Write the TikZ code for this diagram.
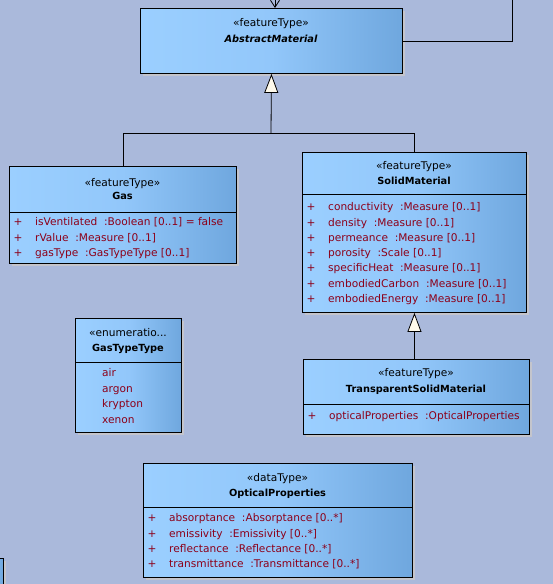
\documentclass[tikz,border=0pt]{standalone}
\usepackage{fontspec}
\setmainfont{DejaVu Sans}
\usetikzlibrary{arrows.meta,shadows}
\definecolor{canvas}{RGB}{170,185,219}
\definecolor{boxlight}{RGB}{155,207,255}
\definecolor{boxmid}{RGB}{146,199,250}
\definecolor{boxdark}{RGB}{111,167,222}
\definecolor{shade}{RGB}{196,197,204}
\definecolor{attrred}{RGB}{140,0,25}
\definecolor{cream}{RGB}{255,250,235}

\begin{document}
\begin{tikzpicture}[x=1bp,y=-1bp,
        every node/.style={inner sep=0pt,font=\fontsize{10.6bp}{12.7bp}\selectfont},
        umlclass/.style={draw,line width=0.9bp,anchor=north west,
            left color=boxlight,right color=boxdark,middle color=boxmid,
            drop shadow={shadow xshift=3bp,shadow yshift=-3bp,fill=shade,opacity=1}},
        stereo/.style={anchor=base},
        cname/.style={anchor=base,font=\fontsize{9.8bp}{12bp}\selectfont\bfseries},
        abstract/.style={cname,font=\fontsize{9.8bp}{12bp}\selectfont\bfseries\itshape},
        plus/.style={anchor=base,text=attrred},
        attr/.style={anchor=base west,text=attrred},
        link/.style={line width=0.8bp},
        divider/.style={line width=0.8bp},
        gen/.style={link,-{Triangle[length=19bp,width=14bp,fill=cream]}},
        nav/.style={link,-{Straight Barb[length=7bp,width=9bp]}}]
        \useasboundingbox (0,0) rectangle (553,584);
        \fill[canvas] (0,0) rectangle (553,584);
        \clip (0,0) rectangle (553,584);

        % AbstractMaterial at the top
        \node[umlclass,minimum width=262bp,minimum height=65bp] (am) at (140,8) {};
        \node[stereo] (am-st) at (271,27) {«featureType»};
        \node[abstract] (am-nm) at (271,43) {AbstractMaterial};
        \coordinate (am-in) at (275,0);
        \coordinate (am-out) at (512,0);
        \draw[nav] (am-in) -- (am-in |- am.north);
        \draw[link] (am.east) -| (am-out);

        % Gas
        \node[umlclass,minimum width=227bp,minimum height=97bp] (gas) at (9,166) {};
        \node[stereo] (gas-st) at (122.5,186) {«featureType»};
        \node[cname] (gas-nm) at (122.5,199.5) {Gas};
        \draw[divider] (gas.west |- 0,212) -- (gas.east |- 0,212);
        \node[plus] (gas-p1) at (18,225.7) {+}; \node[attr] (gas-a1) at (35,225.7) {isVentilated\ \ :Boolean [0..1] = false};
        \node[plus] (gas-p2) at (18,241) {+}; \node[attr] (gas-a2) at (35,241) {rValue\ \ :Measure [0..1]};
        \node[plus] (gas-p3) at (18,256.3) {+}; \node[attr] (gas-a3) at (35,256.3) {gasType\ \ :GasTypeType [0..1]};

        % SolidMaterial
        \node[umlclass,minimum width=224bp,minimum height=160bp] (solid) at (302,152) {};
        \node[stereo] (solid-st) at (414,170) {«featureType»};
        \node[cname] (solid-nm) at (414,184.3) {SolidMaterial};
        \draw[divider] (solid.west |- 0,194) -- (solid.east |- 0,194);
        \node[plus] (solid-p1) at (311,210.7) {+}; \node[attr] (solid-a1) at (328,210.7) {conductivity\ \ :Measure [0..1]};
        \node[plus] (solid-p2) at (311,226) {+}; \node[attr] (solid-a2) at (328,226) {density\ \ :Measure [0..1]};
        \node[plus] (solid-p3) at (311,241.3) {+}; \node[attr] (solid-a3) at (328,241.3) {permeance\ \ :Measure [0..1]};
        \node[plus] (solid-p4) at (311,256.6) {+}; \node[attr] (solid-a4) at (328,256.6) {porosity\ \ :Scale [0..1]};
        \node[plus] (solid-p5) at (311,271.9) {+}; \node[attr] (solid-a5) at (328,271.9) {specificHeat\ \ :Measure [0..1]};
        \node[plus] (solid-p6) at (311,287.2) {+}; \node[attr] (solid-a6) at (328,287.2) {embodiedCarbon\ \ :Measure [0..1]};
        \node[plus] (solid-p7) at (311,302.5) {+}; \node[attr] (solid-a7) at (328,302.5) {embodiedEnergy\ \ :Measure [0..1]};

        % both generalise AbstractMaterial
        \coordinate (join) at (271,133);
        \draw[link] (gas.north) |- (join);
        \draw[link] (solid.north) |- (join);
        \draw[gen] (join) -- (am.south);

        % TransparentSolidMaterial
        \node[umlclass,minimum width=226bp,minimum height=75bp] (tsm) at (303,359) {};
        \node[stereo] (tsm-st) at (416,376.7) {«featureType»};
        \node[cname] (tsm-nm) at (416,392.3) {TransparentSolidMaterial};
        \draw[divider] (tsm.west |- 0,404) -- (tsm.east |- 0,404);
        \node[plus] (tsm-p1) at (312,419) {+}; \node[attr] (tsm-a1) at (329,419) {opticalProperties\ \ :OpticalProperties};
        \draw[gen] (solid.south |- tsm.north) -- (solid.south);

        % GasTypeType
        \node[umlclass,minimum width=106bp,minimum height=114bp] (gtt) at (75,318) {};
        \node[stereo] (gtt-st) at (128,336.7) {«enumeratio...};
        \node[cname] (gtt-nm) at (128,351) {GasTypeType};
        \draw[divider] (gtt.west |- 0,362) -- (gtt.east |- 0,362);
        \node[attr] (gtt-v1) at (102,376.7) {air};
        \node[attr] (gtt-v2) at (102,392.3) {argon};
        \node[attr] (gtt-v3) at (102,407.9) {krypton};
        \node[attr] (gtt-v4) at (102,423.5) {xenon};

        % OpticalProperties
        \node[umlclass,minimum width=269bp,minimum height=114bp] (opt) at (143,463) {};
        \node[stereo] (opt-st) at (277.5,481.7) {«dataType»};
        \node[cname] (opt-nm) at (277.5,496) {OpticalProperties};
        \draw[divider] (opt.west |- 0,507) -- (opt.east |- 0,507);
        \node[plus] (opt-p1) at (152,521.7) {+}; \node[attr] (opt-a1) at (169,521.7) {absorptance\ \ :Absorptance [0..*]};
        \node[plus] (opt-p2) at (152,537.1) {+}; \node[attr] (opt-a2) at (169,537.1) {emissivity\ \ :Emissivity [0..*]};
        \node[plus] (opt-p3) at (152,552.5) {+}; \node[attr] (opt-a3) at (169,552.5) {reflectance\ \ :Reflectance [0..*]};
        \node[plus] (opt-p4) at (152,567.9) {+}; \node[attr] (opt-a4) at (169,567.9) {transmittance\ \ :Transmittance [0..*]};

        % corner of a class cut off at the bottom left
        \node[umlclass,minimum width=40bp,minimum height=40bp] (cut) at (-37,558) {};
\end{tikzpicture}
\end{document}
